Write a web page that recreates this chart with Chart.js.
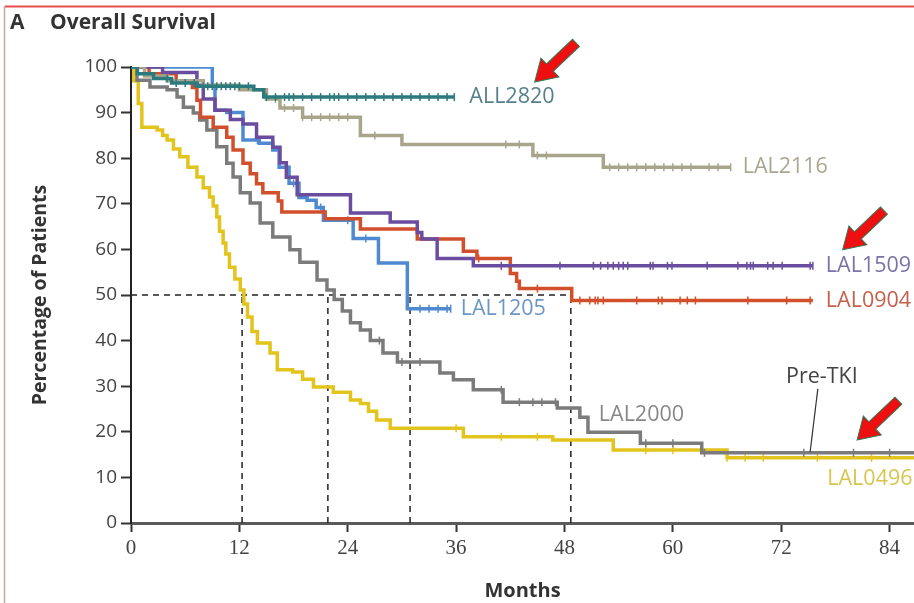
<!DOCTYPE html>
<html>
<head>
<meta charset="utf-8">
<script src="https://cdn.jsdelivr.net/npm/chart.js@4/dist/chart.umd.min.js"></script>
<style>
  html, body { margin: 0; padding: 0; background: #fff; }
  #wrap { width: 914px; height: 603px; }
</style>
</head>
<body>
<div id="wrap"><canvas id="osChart" width="914" height="603"></canvas></div>
<script>
// Kaplan-Meier steps: month of each drop and survival (%) after it.
// Each curve runs flat from its last step to the end of follow-up.
const all2820Months = [0, 0.7, 2.5, 4.5, 7.3, 13.6, 14.7];
const all2820Surv   = [100, 98.5, 97.5, 96.5, 95.8, 95, 93.4];
const all2820End = 35.8;
const all2820Cens = [4, 5, 6, 7, 8, 8.5, 9, 9.5, 10, 10.5, 11, 11.5, 12, 13, 15, 16, 17, 17.5, 18, 19, 20, 21, 22, 22.5, 23, 24, 25, 26, 27, 28, 29, 30, 31, 32, 33, 34, 35, 35.8];

const lal2116Months = [0, 1.5, 4, 8, 12, 15, 16.5, 19, 25.4, 30, 44.5, 52.3];
const lal2116Surv   = [100, 98, 97, 96, 95, 93, 91, 89, 85, 83, 80.6, 78];
const lal2116End = 66.4;
const lal2116Cens = [16, 17, 18, 19, 20, 21, 22, 23, 24, 27, 41.5, 43, 45, 46, 53, 54, 55, 56, 57, 58, 59, 60, 61, 62, 64, 65, 66.4];

const lal1509Months = [0, 3.5, 7.3, 8, 9.3, 11, 12.4, 13.9, 15.7, 16.5, 17.2, 18.4, 24.3, 28.7, 31.7, 32.2, 33.9, 37.9];
const lal1509Surv   = [100, 98.8, 96, 93, 90.5, 88.5, 87.5, 84.6, 82.4, 79, 75.8, 72, 68, 66, 63.7, 62.3, 58, 56.4];
const lal1509End = 75.5;
const lal1509Cens = [41, 47.5, 51.2, 52, 52.8, 53.4, 54, 54.5, 55, 57.5, 57.8, 59.4, 59.9, 63.8, 67.2, 68.2, 68.6, 68.9, 70.5, 71.1, 72.1, 75.2, 75.5];

const lal0904Months = [0, 2, 5, 6.8, 7.3, 7.7, 9.1, 10.6, 11.3, 12.4, 13.2, 13.9, 14.6, 16.3, 16.7, 21.5, 25.4, 31.7, 36.8, 38.3, 42, 42.7, 43, 48.8];
const lal0904Surv   = [100, 98.5, 97, 95.5, 92.7, 89, 86.8, 84.6, 81.8, 78.9, 76.6, 74.4, 72.4, 70.6, 68.2, 66.7, 64.5, 62.3, 59.6, 58, 54.7, 53, 51.4, 48.8];
const lal0904End = 75.5;
const lal0904Cens = [38.5, 45, 49.7, 50.8, 51.4, 51.7, 52.3, 56, 58.4, 58.8, 60.8, 61.6, 62.5, 68.3, 72.6, 75.2];

const lal1205Months = [0, 9, 9.3, 10.6, 12.4, 14.2, 15.7, 16.4, 17.5, 18.6, 19.5, 20.5, 21.3, 24.6, 27.4, 30.6];
const lal1205Surv   = [100, 96, 90.5, 90, 84, 83.3, 81.8, 78, 74.5, 71.4, 70.8, 69.2, 66.4, 62.4, 57, 47];
const lal1205End = 35.4;
const lal1205Cens = [14, 18, 21, 24, 26, 32, 33, 34, 35, 35.4];

const lal2000Months = [0, 0.66, 2.1, 4, 5.1, 5.8, 6.9, 7.6, 8.4, 9.5, 10.6, 11.3, 12.1, 13.2, 14.3, 15.7, 17.6, 18.7, 20.6, 21.7, 22.5, 23.4, 24.3, 25.4, 26.5, 27.9, 29.5, 34.2, 35.7, 37.9, 41.2, 47.2, 49.7, 50.6, 56.4, 63.2];
const lal2000Surv   = [100, 97.1, 95.6, 95, 93.4, 91.2, 89.9, 88.4, 86.2, 82.5, 78.9, 75.9, 72.4, 70.2, 65.8, 62.7, 59.9, 57.2, 53.3, 51.1, 49, 46.5, 43.9, 42.3, 40, 37.3, 35.3, 32.9, 31.4, 29.2, 26.5, 25.2, 23.2, 19.9, 17.5, 15.4];
const lal2000End = 86.7;
const lal2000Cens = [27.5, 30, 32, 41, 43, 44.5, 45.5, 47, 57, 60, 63.5, 74.5, 80, 84];

const lal0496Months = [0, 0.3, 0.8, 1.2, 2.9, 3.5, 4, 4.7, 5.4, 6.3, 7.3, 8, 8.7, 9.1, 9.5, 9.8, 10.2, 10.5, 10.9, 11.5, 12.1, 12.5, 12.9, 13.4, 14, 15.4, 16.2, 17.9, 19, 20.2, 22.4, 24.3, 25.4, 26.3, 27.2, 28.7, 36.8, 46.7, 53.4, 66];
const lal0496Surv   = [100, 97, 92, 86.8, 86.2, 85, 84, 82, 80.3, 78, 75.9, 73.5, 71.5, 69.5, 67.1, 64, 61.4, 59, 56.1, 53.5, 51.1, 48, 45.2, 42, 39.5, 37.3, 33.6, 33.1, 31.5, 29.8, 28.7, 27, 26.2, 24.5, 22.6, 20.8, 18.9, 18.2, 16, 14.3];
const lal0496End = 86.7;
const lal0496Cens = [36, 41, 45, 57, 60, 66, 68, 70, 76, 82];

// median survival (months) marked with dashed drop lines at 50%
const medianMonths = [12.3, 21.8, 30.9, 48.7];

const xTicks = [0, 12, 24, 36, 48, 60, 72, 84];

function stepPoints(months, surv, end) {
  const pts = months.map((m, i) => ({ x: m, y: surv[i] }));
  pts.push({ x: end, y: surv[surv.length - 1] });
  return pts;
}
function survAt(months, surv, t) {
  let v = surv[0];
  for (let i = 0; i < months.length; i++) if (months[i] <= t) v = surv[i];
  return v;
}

const curves = [
  { name: 'ALL2820', months: all2820Months, surv: all2820Surv, end: all2820End, cens: all2820Cens, color: '#2b7b7e', text: '#56808a' },
  { name: 'LAL2116', months: lal2116Months, surv: lal2116Surv, end: lal2116End, cens: lal2116Cens, color: '#a9a58b', text: '#a9a790' },
  { name: 'LAL1509', months: lal1509Months, surv: lal1509Surv, end: lal1509End, cens: lal1509Cens, color: '#6a4d9e', text: '#7b72a6' },
  { name: 'LAL0904', months: lal0904Months, surv: lal0904Surv, end: lal0904End, cens: lal0904Cens, color: '#d24f2b', text: '#c4614c' },
  { name: 'LAL1205', months: lal1205Months, surv: lal1205Surv, end: lal1205End, cens: lal1205Cens, color: '#4f8ad0', text: '#6d96c6' },
  { name: 'LAL2000', months: lal2000Months, surv: lal2000Surv, end: lal2000End, cens: lal2000Cens, color: '#7b7b7b', text: '#888888' },
  { name: 'LAL0496', months: lal0496Months, surv: lal0496Surv, end: lal0496End, cens: lal0496Cens, color: '#e2c41c', text: '#d6c650' }
];

const datasets = [];
curves.forEach((c, i) => {
  datasets.push({
    label: c.name,
    data: stepPoints(c.months, c.surv, c.end),
    stepped: true,
    borderColor: c.color,
    borderWidth: 3.5,
    pointRadius: 0,
    fill: false,
    order: i
  });
  datasets.push({
    label: c.name + ' censored',
    data: c.cens.map(t => ({ x: t, y: survAt(c.months, c.surv, t) })),
    showLine: false,
    pointStyle: 'line',
    rotation: 90,
    pointRadius: 4,
    pointBorderWidth: 1.5,
    pointBorderColor: c.color,
    order: i
  });
});

// dashed guide lines for the medians
const dashStyle = { borderColor: '#222', borderWidth: 1.5, borderDash: [6, 5], pointRadius: 0, fill: false, order: 20 };
datasets.push(Object.assign({ label: 'median50', data: [{ x: 0, y: 50 }, { x: medianMonths[medianMonths.length - 1], y: 50 }] }, dashStyle));
medianMonths.forEach(m => {
  datasets.push(Object.assign({ label: 'median' + m, data: [{ x: m, y: 0 }, { x: m, y: 50 }] }, dashStyle));
});

// label positions in data units: [month, percent]
const curveLabels = [
  { text: 'ALL2820', at: [all2820End, 93.4], dx: 15 },
  { text: 'LAL2116', at: [lal2116End, 78], dx: 12 },
  { text: 'LAL1509', at: [lal1509End, 56.4], dx: 13 },
  { text: 'LAL0904', at: [lal0904End, 48.8], dx: 13 },
  { text: 'LAL1205', at: [lal1205End, 47], dx: 10 },
  { text: 'LAL2000', at: [51.8, 23.8], dx: 0 },
  { text: 'LAL0496', at: [77.1, 9.6], dx: 0 }
];
const arrowTips = [[44.7, 96.7], [78.8, 59.9], [80.4, 18.2]];

const overlay = {
  id: 'overlay',
  afterDatasetsDraw(chart) {
    const { ctx, scales: { x, y } } = chart;
    ctx.save();
    // frame
    ctx.strokeStyle = '#e84d4d';
    ctx.lineWidth = 2;
    ctx.beginPath(); ctx.moveTo(5, 6.5); ctx.lineTo(914, 6.5); ctx.stroke();
    ctx.strokeStyle = '#cfa4a4';
    ctx.lineWidth = 1.5;
    ctx.beginPath(); ctx.moveTo(4.5, 6); ctx.lineTo(4.5, 603); ctx.stroke();

    // panel title
    ctx.fillStyle = '#333';
    ctx.textBaseline = 'middle';
    ctx.textAlign = 'left';
    ctx.font = 'bold 21px "Open Sans"';
    ctx.fillText('A', 10, 23);
    ctx.fillText('Overall Survival', 50, 23);

    // curve names
    ctx.font = '21.5px "Open Sans"';
    curveLabels.forEach(l => {
      const c = curves.find(cv => cv.name === l.text);
      ctx.fillStyle = c.text;
      ctx.fillText(l.text, x.getPixelForValue(l.at[0]) + l.dx, y.getPixelForValue(l.at[1]));
    });

    // Pre-TKI callout
    ctx.fillStyle = '#444';
    ctx.textAlign = 'center';
    ctx.fillText('Pre-TKI', x.getPixelForValue(76.5), y.getPixelForValue(32));
    ctx.strokeStyle = '#333';
    ctx.lineWidth = 1.2;
    ctx.beginPath();
    ctx.moveTo(x.getPixelForValue(76.05), y.getPixelForValue(29.4));
    ctx.lineTo(x.getPixelForValue(75.2), y.getPixelForValue(15.6));
    ctx.stroke();

    // red arrows pointing down-left
    arrowTips.forEach(([m, p]) => {
      const tx = x.getPixelForValue(m), ty = y.getPixelForValue(p);
      ctx.save();
      ctx.translate(tx, ty);
      ctx.rotate(Math.atan2(-39, 41));
      ctx.beginPath();
      ctx.moveTo(0, 0);
      ctx.lineTo(21, 13);
      ctx.lineTo(21, 5);
      ctx.lineTo(57, 5);
      ctx.lineTo(57, -5);
      ctx.lineTo(21, -5);
      ctx.lineTo(21, -13);
      ctx.closePath();
      ctx.fillStyle = '#ee1010';
      ctx.fill();
      ctx.strokeStyle = '#2a7a55';
      ctx.lineWidth = 1;
      ctx.stroke();
      ctx.restore();
    });
    ctx.restore();
  }
};

new Chart(document.getElementById('osChart'), {
  type: 'line',
  data: { datasets },
  options: {
    responsive: false,
    animation: false,
    devicePixelRatio: 1,
    layout: { autoPadding: false, padding: { top: 67, left: 0, right: 0, bottom: 0 } },
    plugins: { legend: { display: false }, tooltip: { enabled: false } },
    scales: {
      x: {
        type: 'linear',
        min: 0,
        max: 86.7,
        border: { color: '#5a5a5a', width: 3 },
        grid: { drawOnChartArea: false, drawTicks: true, tickLength: 9, tickWidth: 2, tickColor: '#333' },
        ticks: { stepSize: 12, autoSkip: false, maxRotation: 0, padding: 4, color: '#444', font: { family: '"Liberation Sans Narrow"', size: 21 } },
        afterBuildTicks(scale) { scale.ticks = xTicks.map(v => ({ value: v })); },
        afterFit(scale) { scale.height = 80; scale.paddingLeft = 0; scale.paddingRight = 0; },
        title: { display: true, text: 'Months', color: '#333', font: { family: '"Open Sans"', weight: 'bold', size: 20 }, padding: { top: 0, bottom: 0 } }
      },
      y: {
        min: 0,
        max: 100,
        border: { color: '#222', width: 2 },
        grid: { drawOnChartArea: false, drawTicks: true, tickLength: 10, tickWidth: 2, tickColor: '#333' },
        ticks: { stepSize: 10, padding: 4, color: '#444', font: { family: '"Open Sans"', size: 19 } },
        afterFit(scale) { scale.width = 131; },
        title: { display: true, text: 'Percentage of Patients', color: '#333', font: { family: '"Open Sans"', weight: 'bold', size: 19.5 }, padding: { top: 29, bottom: 0 } }
      }
    }
  },
  plugins: [overlay]
});
</script>
</body>
</html>
